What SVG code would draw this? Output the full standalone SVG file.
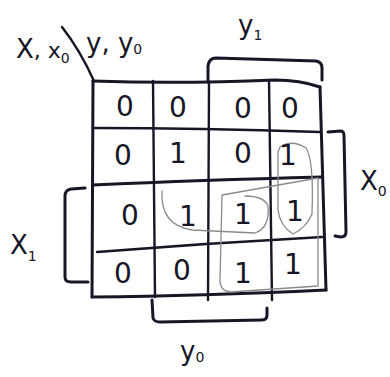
<svg xmlns="http://www.w3.org/2000/svg" width="390" height="377" viewBox="0 0 390 377">
<style>
.ink{fill:none;stroke:#161626;stroke-width:3;stroke-linecap:round;stroke-linejoin:round}
.thin{fill:none;stroke:#161626;stroke-width:2.4;stroke-linecap:round;stroke-linejoin:round}
.loop{fill:none;stroke:#8a8a8a;stroke-width:1.3;stroke-linecap:round;stroke-linejoin:round}
.d{font-family:"DejaVu Sans","Liberation Sans",sans-serif;font-size:28px;fill:#161626;text-anchor:middle}
.lb{font-family:"DejaVu Sans","Liberation Sans",sans-serif;font-size:26px;fill:#161626}
.sub{font-size:14px}
</style>
<rect width="390" height="377" fill="#ffffff"/>
<g id="grid">
<path class="ink" d="M93,81 Q180,84 275,80 Q300,80 320,87"/>
<path class="ink" d="M93,81 L92,297"/>
<path class="ink" d="M320,87 Q323,190 326,290"/>
<path class="ink" d="M92,297 Q200,296 326,290"/>
<path class="thin" d="M153,81 L155,297"/>
<path class="thin" d="M209,82 L208,300"/>
<path class="thin" d="M269,80 L272,300"/>
<path class="thin" d="M93,128 Q200,128 320,132"/>
<path class="ink" d="M93,185 Q200,180 322,177"/>
<path class="thin" d="M97,252 Q210,243 322,237"/>
</g>
<g id="diagonal">
<path class="thin" d="M62,27 Q80,50 94,81"/>
</g>
<g id="groupings">
<path class="loop" d="M162,191 Q160,225 192,230 L255,233 Q270,228 268,206 Q264,196 245,196"/>
<path class="loop" d="M222,195 L318,178 L318,286 L230,292 Q220,291 220,280 Z"/>
<path class="loop" d="M280,147 Q292,139 306,148 Q314,160 312,214 Q306,228 293,234 Q280,226 278,210 L278,152 Z"/>
</g>
<g id="connectors">
<path id="br-y1" class="ink" d="M208,82 L208,66 Q209,58 216,58 L316,61 Q322,62 322,68 L322,80"/>
<path id="br-x0" class="ink" d="M328,132 L341,131 Q344,131 344,136 L346,232 Q346,237 341,237 L335,236"/>
<path id="br-x1" class="ink" d="M85,188 L71,189 Q65,190 65,196 L65,277 Q65,282 71,282 L88,282"/>
<path id="br-y0" class="ink" d="M152,300 L153,318 Q154,322 160,322 L262,320 Q267,320 267,315 L267,308"/>
</g>
<g id="cells">
<g id="c00"><text class="d" x="125" y="116">0</text></g>
<g id="c01"><text class="d" x="178" y="117">0</text></g>
<g id="c03"><text class="d" x="243" y="118">0</text></g>
<g id="c02"><text class="d" x="290" y="118">0</text></g>
<g id="c10"><text class="d" x="123" y="165">0</text></g>
<g id="c11"><text class="d" x="178" y="163">1</text></g>
<g id="c13"><text class="d" x="243" y="163">0</text></g>
<g id="c12"><text class="d" x="288" y="165">1</text></g>
<g id="c30"><text class="d" x="130" y="225">0</text></g>
<g id="c31"><text class="d" x="188" y="226">1</text></g>
<g id="c33"><text class="d" x="243" y="224">1</text></g>
<g id="c32"><text class="d" x="295" y="221">1</text></g>
<g id="c20"><text class="d" x="123" y="283">0</text></g>
<g id="c21"><text class="d" x="182" y="280">0</text></g>
<g id="c23"><text class="d" x="243" y="283">1</text></g>
<g id="c22"><text class="d" x="293" y="274">1</text></g>
</g>
<g id="labels">
<text class="lb" x="16" y="58">X<tspan font-size="22">, x</tspan><tspan class="sub" dy="5">0</tspan></text>
<text class="lb" x="86" y="52" font-size="22">y, y<tspan class="sub" dy="2">0</tspan></text>
<text class="lb" x="238" y="34">y<tspan class="sub" dy="6">1</tspan></text>
<text class="lb" x="360" y="190">X<tspan class="sub" dy="6">0</tspan></text>
<text class="lb" x="10" y="254">X<tspan class="sub" dy="7">1</tspan></text>
<text class="lb" x="180" y="360">y<tspan class="sub" dy="2">0</tspan></text>
</g>
</svg>
